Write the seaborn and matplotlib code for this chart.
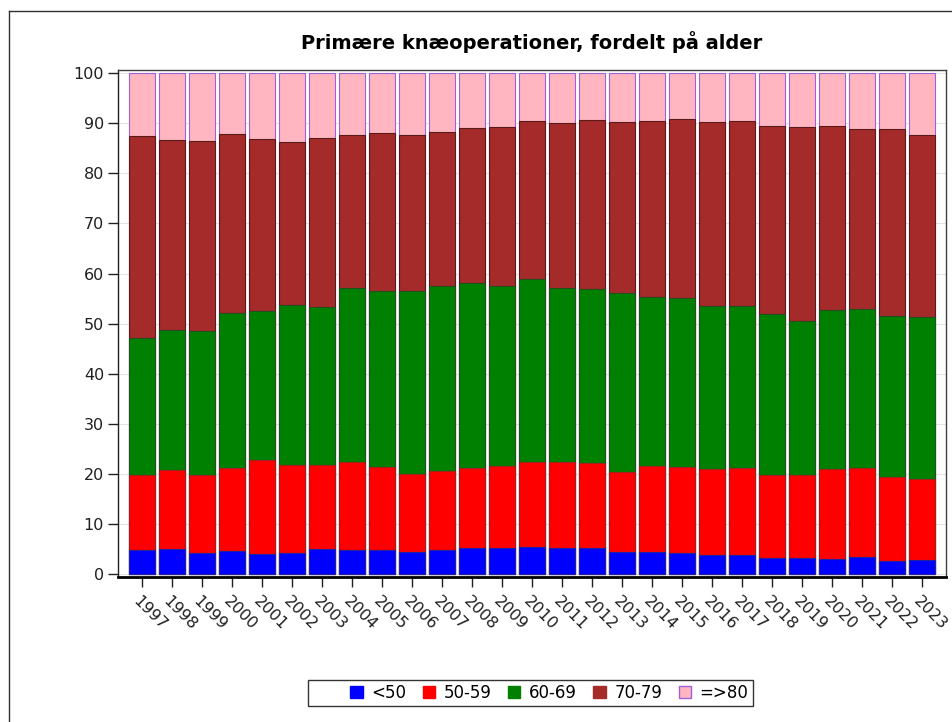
import numpy as np
import pandas as pd
import matplotlib
matplotlib.use("Agg")
import matplotlib.pyplot as plt
import matplotlib.transforms as mtransforms
from matplotlib.lines import Line2D
from matplotlib.patches import Patch
import seaborn as sns

years = [str(y) for y in range(1997, 2024)]
age_groups = ["<50", "50-59", "60-69", "70-79", "=>80"]

under50 = [4.8, 5.0, 4.3, 4.6, 4.1, 4.3, 5.0, 4.8, 4.8, 4.4, 4.8, 5.2, 5.2, 5.4,
           5.2, 5.2, 4.4, 4.4, 4.3, 3.9, 3.8, 3.2, 3.2, 3.0, 3.4, 2.6, 2.8]
age50_59 = [15.0, 15.9, 15.6, 16.7, 18.8, 17.5, 16.9, 17.6, 16.6, 15.7, 15.8, 16.0, 16.4, 17.0,
            17.2, 17.1, 16.0, 17.2, 17.1, 17.1, 17.5, 16.6, 16.6, 18.1, 17.9, 16.8, 16.3]
age60_69 = [27.4, 27.8, 28.7, 30.9, 29.7, 32.0, 31.4, 34.7, 35.2, 36.5, 36.9, 36.9, 36.0, 36.5,
            34.7, 34.7, 35.7, 33.8, 33.8, 32.5, 32.2, 32.2, 30.8, 31.7, 31.7, 32.2, 32.3]
age70_79 = [40.3, 37.9, 37.8, 35.6, 34.3, 32.5, 33.7, 30.5, 31.4, 31.1, 30.8, 30.9, 31.7, 31.6,
            33.0, 33.6, 34.2, 35.1, 35.6, 36.8, 37.0, 37.5, 38.6, 36.6, 35.8, 37.3, 36.2]
over80 = [12.5, 13.4, 13.6, 12.2, 13.1, 13.7, 13.0, 12.4, 12.0, 12.3, 11.7, 11.0, 10.7, 9.5,
          9.9, 9.4, 9.7, 9.5, 9.2, 9.7, 9.5, 10.5, 10.8, 10.6, 11.2, 11.1, 12.4]

series = [under50, age50_59, age60_69, age70_79, over80]
face_colors = ["#0000FF", "#FF0000", "#008000", "#A52A2A", "#FFB6C1"]
edge_colors = ["#2020A0", "#A02020", "#205020", "#5A1A1A", "#A060D8"]

df = pd.DataFrame({"year": years})
cum = np.zeros(len(years))
for name, vals in zip(age_groups, series):
    cum = cum + np.array(vals)
    df[name] = cum.copy()

plt.rcParams["font.family"] = ["DejaVu Sans"]
fig = plt.figure(figsize=(9.52, 7.22), dpi=100)
ax = fig.add_axes([118 / 952, 1 - 577 / 722, (946 - 118) / 952, (577 - 70) / 722])

# draw cumulative bars from the top layer down
for name, fc, ec in reversed(list(zip(age_groups, face_colors, edge_colors))):
    sns.barplot(data=df, x="year", y=name, color=fc, edgecolor=ec, linewidth=0.8,
                width=0.87, saturation=1, ax=ax, zorder=3)

ax.set_xlim(-0.79, 26.81)
ax.set_ylim(-0.5, 100.6)
ax.set_yticks(range(0, 101, 10))
ax.set_xlabel("")
ax.set_ylabel("")
ax.grid(axis="y", color="#E4E4E4", linewidth=0.8, zorder=0)
ax.set_axisbelow(True)

for s in ["top", "right"]:
    ax.spines[s].set_color("#404040")
    ax.spines[s].set_linewidth(1.0)
ax.spines["left"].set_color("#202020")
ax.spines["left"].set_linewidth(1.0)
ax.spines["bottom"].set_color("black")
ax.spines["bottom"].set_linewidth(2.0)

ax.tick_params(axis="y", direction="out", length=7, width=1, labelsize=11.5, pad=3, colors="#202020")
ax.tick_params(axis="x", direction="out", length=7, width=1, labelsize=11.5, pad=9, colors="#202020")
offset = mtransforms.ScaledTranslation(-6 / 100, 0, fig.dpi_scale_trans)
for lab in ax.get_xticklabels():
    lab.set_rotation(-45)
    lab.set_ha("left")
    lab.set_va("center")
    lab.set_rotation_mode("anchor")
    lab.set_transform(lab.get_transform() + offset)

fig.text(532 / 952, 1 - 42 / 722, "Primære knæoperationer, fordelt på alder",
         ha="center", va="center", fontsize=14, fontweight="bold", color="black")

handles = [Patch(facecolor="none", edgecolor="none", label="")]
handles += [Patch(facecolor=fc, edgecolor=ec if i == 4 else fc, linewidth=1.0, label=name)
            for i, (name, fc, ec) in enumerate(zip(age_groups, face_colors, edge_colors))]
leg = fig.legend(handles=handles, loc="center", bbox_to_anchor=(530.5 / 952, 1 - 693 / 722),
                 ncol=6, frameon=True, fancybox=False, fontsize=12, handlelength=0.75,
                 handleheight=0.75, handletextpad=0.5, columnspacing=1.0, borderpad=0.25,
                 borderaxespad=0)
leg.get_frame().set_edgecolor("black")
leg.get_frame().set_linewidth(1.0)

fig.add_artist(Line2D([9 / 952, 9 / 952], [0, 1 - 11 / 722], transform=fig.transFigure,
                      color="#303030", linewidth=1.0))
fig.add_artist(Line2D([9 / 952, 1], [1 - 11 / 722, 1 - 11 / 722], transform=fig.transFigure,
                      color="#303030", linewidth=1.0))

fig.savefig("out.png", dpi=100)
